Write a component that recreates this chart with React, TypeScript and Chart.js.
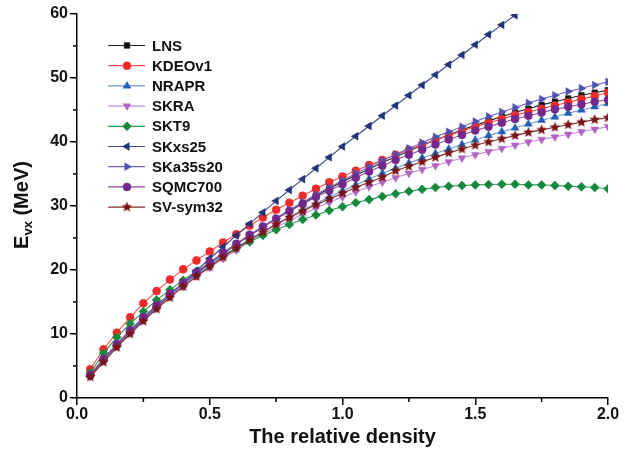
import React, { useEffect, useRef } from 'react';
import { Chart, registerables } from 'chart.js';
import { drawPoint } from 'chart.js/helpers';

Chart.register(...registerables);

const density = [0.05, 0.10, 0.15, 0.20, 0.25, 0.30, 0.35, 0.40, 0.45, 0.50, 0.55, 0.60, 0.65, 0.70, 0.75, 0.80, 0.85, 0.90, 0.95, 1.00, 1.05, 1.10, 1.15, 1.20, 1.25, 1.30, 1.35, 1.40, 1.45, 1.50, 1.55, 1.60, 1.65, 1.70, 1.75, 1.80, 1.85, 1.90, 1.95, 2.00];

const LNS = [3.6, 6.1, 8.4, 10.5, 12.5, 14.4, 16.2, 17.9, 19.5, 21.0, 22.5, 24.0, 25.4, 26.7, 28.0, 29.2, 30.4, 31.6, 32.7, 33.8, 34.8, 35.8, 36.8, 37.7, 38.6, 39.5, 40.3, 41.1, 41.9, 42.6, 43.3, 44.0, 44.6, 45.2, 45.8, 46.3, 46.8, 47.3, 47.7, 48.1];
const KDEOv1 = [4.5, 7.6, 10.2, 12.6, 14.8, 16.7, 18.5, 20.1, 21.5, 22.9, 24.3, 25.6, 26.9, 28.2, 29.4, 30.5, 31.6, 32.7, 33.7, 34.6, 35.5, 36.4, 37.2, 38.0, 38.8, 39.6, 40.3, 41.0, 41.7, 42.4, 43.0, 43.6, 44.2, 44.7, 45.2, 45.7, 46.2, 46.7, 47.2, 47.7];
const NRAPR = [3.5, 6.0, 8.3, 10.4, 12.4, 14.2, 16.0, 17.6, 19.2, 20.7, 22.1, 23.5, 24.8, 26.0, 27.2, 28.3, 29.4, 30.4, 31.4, 32.4, 33.3, 34.2, 35.1, 35.9, 36.7, 37.5, 38.2, 38.9, 39.6, 40.3, 41.0, 41.6, 42.2, 42.8, 43.4, 43.9, 44.5, 45.0, 45.5, 46.0];
const SKRA = [3.4, 5.8, 8.1, 10.2, 12.2, 14.0, 15.8, 17.4, 19.0, 20.4, 21.8, 23.1, 24.4, 25.6, 26.7, 27.7, 28.7, 29.7, 30.6, 31.4, 32.2, 33.0, 33.7, 34.4, 35.1, 35.7, 36.3, 36.9, 37.5, 38.0, 38.5, 39.0, 39.5, 40.0, 40.4, 40.8, 41.2, 41.6, 42.0, 42.4];
const SKT9 = [3.9, 7.0, 9.5, 11.6, 13.5, 15.3, 16.9, 18.4, 19.8, 21.1, 22.3, 23.4, 24.4, 25.4, 26.3, 27.1, 27.9, 28.6, 29.3, 29.9, 30.5, 31.0, 31.5, 31.9, 32.3, 32.6, 32.9, 33.1, 33.2, 33.3, 33.35, 33.4, 33.4, 33.3, 33.3, 33.2, 33.1, 33.0, 32.9, 32.7];
const SKxs25 = [3.4, 5.9, 8.2, 10.3, 12.3, 14.2, 16.1, 18.0, 19.9, 21.8, 23.6, 25.4, 27.2, 29.0, 30.8, 32.5, 34.2, 35.9, 37.6, 39.3, 40.9, 42.5, 44.1, 45.7, 47.3, 48.9, 50.5, 52.1, 53.6, 55.2, 56.8, 58.3, 59.8];
const SKa35s20 = [3.5, 6.0, 8.3, 10.4, 12.4, 14.3, 16.1, 17.8, 19.4, 21.0, 22.5, 24.0, 25.4, 26.8, 28.1, 29.4, 30.6, 31.8, 32.9, 34.0, 35.1, 36.1, 37.1, 38.1, 39.0, 39.9, 40.8, 41.6, 42.4, 43.2, 44.0, 44.7, 45.4, 46.1, 46.7, 47.3, 47.9, 48.4, 48.9, 49.4];
const SQMC700 = [3.6, 6.1, 8.4, 10.6, 12.6, 14.5, 16.3, 18.0, 19.6, 21.2, 22.7, 24.1, 25.5, 26.8, 28.0, 29.2, 30.3, 31.4, 32.4, 33.4, 34.4, 35.4, 36.3, 37.2, 38.0, 38.8, 39.6, 40.4, 41.1, 41.8, 42.4, 43.0, 43.6, 44.1, 44.6, 45.1, 45.5, 45.9, 46.3, 46.6];
const SVsym32 = [3.3, 5.6, 7.9, 10.0, 12.0, 13.9, 15.7, 17.4, 19.0, 20.5, 22.0, 23.4, 24.7, 25.9, 27.1, 28.2, 29.2, 30.2, 31.1, 32.0, 32.9, 33.7, 34.5, 35.5, 36.2, 36.9, 37.6, 38.3, 38.9, 39.5, 40.0, 40.5, 41.0, 41.5, 41.9, 42.3, 42.7, 43.1, 43.5, 43.8];

const seriesNames = ['LNS', 'KDEOv1', 'NRAPR', 'SKRA', 'SKT9', 'SKxs25', 'SKa35s20', 'SQMC700', 'SV-sym32'];
const seriesValues = [LNS, KDEOv1, NRAPR, SKRA, SKT9, SKxs25, SKa35s20, SQMC700, SVsym32];
const xTickValues = [0, 0.5, 1.0, 1.5, 2.0];
const yTickValues = [0, 10, 20, 30, 40, 50, 60];

const FONT = "'Liberation Sans', Arial, Helvetica, sans-serif";

function makeStar(color: string, r: number) {
  const c = document.createElement('canvas');
  const size = Math.ceil(r * 2 + 2);
  c.width = size;
  c.height = size;
  const ctx = c.getContext('2d')!;
  const cx = size / 2, cy = size / 2;
  ctx.beginPath();
  for (let i = 0; i < 10; i++) {
    const rad = i % 2 === 0 ? r : r * 0.45;
    const a = -Math.PI / 2 + (i * Math.PI) / 5;
    const px = cx + rad * Math.cos(a);
    const py = cy + rad * Math.sin(a);
    if (i === 0) ctx.moveTo(px, py); else ctx.lineTo(px, py);
  }
  ctx.closePath();
  ctx.fillStyle = color;
  ctx.fill();
  return c;
}

const styles = [
  { line: '#222222', fill: '#111111', point: 'rect', rot: 0, r: 4 },
  { line: '#f05050', fill: '#ee2b2b', point: 'circle', rot: 0, r: 4 },
  { line: '#6f9ad0', fill: '#1f60b5', point: 'triangle', rot: 0, r: 4.5 },
  { line: '#c58ad4', fill: '#b064c4', point: 'triangle', rot: 180, r: 4.5 },
  { line: '#2a9a50', fill: '#14883c', point: 'rectRot', rot: 0, r: 4.5 },
  { line: '#3a4a88', fill: '#22337a', point: 'triangle', rot: -90, r: 4.5 },
  { line: '#6a6ac0', fill: '#5050b0', point: 'triangle', rot: 90, r: 4.5 },
  { line: '#8a4aa0', fill: '#74288e', point: 'circle', rot: 0, r: 4 },
  { line: '#8a2a2a', fill: '#7a1414', point: 'star', rot: 0, r: 5 },
];

export default function App() {
  const ref = useRef<HTMLCanvasElement | null>(null);

  useEffect(() => {
    if (!ref.current) return;
    const starImg = makeStar(styles[8].fill, 5.5);

    const datasets = seriesNames.map((name, i) => {
      const st = styles[i];
      const ps: any = st.point === 'star' ? starImg : st.point;
      return {
        label: name,
        data: seriesValues[i].map((v, j) => ({ x: density[j], y: v })),
        borderColor: st.line,
        backgroundColor: st.fill,
        pointBackgroundColor: st.fill,
        pointBorderColor: st.fill,
        pointBorderWidth: 0.5,
        pointStyle: ps,
        pointRotation: st.rot,
        pointRadius: st.r,
        borderWidth: 1.1,
        fill: false,
        tension: 0,
        order: seriesNames.length - i,
      };
    });

    const overlay = {
      id: 'overlay',
      afterDraw(chart: any) {
        const ctx = chart.ctx as CanvasRenderingContext2D;
        const xs = chart.scales.x;
        const ys = chart.scales.y;
        const area = chart.chartArea;
        ctx.save();
        // minor ticks
        ctx.strokeStyle = '#000';
        ctx.lineWidth = 1.5;
        [0.25, 0.75, 1.25, 1.75].forEach((v) => {
          const px = xs.getPixelForValue(v);
          ctx.beginPath();
          ctx.moveTo(px, area.bottom);
          ctx.lineTo(px, area.bottom + 4);
          ctx.stroke();
        });
        [5, 15, 25, 35, 45, 55].forEach((v) => {
          const py = ys.getPixelForValue(v);
          ctx.beginPath();
          ctx.moveTo(area.left - 4, py);
          ctx.lineTo(area.left, py);
          ctx.stroke();
        });
        // x title
        ctx.fillStyle = '#111';
        ctx.font = `bold 20px ${FONT}`;
        ctx.textAlign = 'center';
        ctx.textBaseline = 'middle';
        ctx.fillText('The relative density', (area.left + area.right) / 2, 437);
        // y title with subscript
        ctx.translate(21, 205);
        ctx.rotate(-Math.PI / 2);
        ctx.textAlign = 'left';
        ctx.textBaseline = 'alphabetic';
        const big = `bold 20px ${FONT}`;
        const small = `bold 13px ${FONT}`;
        ctx.font = big;
        const wE = ctx.measureText('E').width;
        const wRest = ctx.measureText(' (MeV)').width;
        ctx.font = small;
        const wSub = ctx.measureText('vx').width;
        const total = wE + wSub + wRest;
        let x0 = -total / 2;
        const base = 7;
        ctx.font = big;
        ctx.fillText('E', x0, base);
        x0 += wE;
        ctx.font = small;
        ctx.fillText('vx', x0, base + 4);
        x0 += wSub;
        ctx.font = big;
        ctx.fillText(' (MeV)', x0, base);
        ctx.restore();

        // legend
        ctx.save();
        const lx0 = 108, lx1 = 145, mx = 127, tx = 152, ly0 = 45.5, dy = 20.2;
        chart.data.datasets.forEach((ds: any, i: number) => {
          const y = ly0 + i * dy;
          ctx.strokeStyle = ds.borderColor;
          ctx.lineWidth = 1.2;
          ctx.beginPath();
          ctx.moveTo(lx0, y);
          ctx.lineTo(lx1, y);
          ctx.stroke();
          ctx.fillStyle = ds.pointBackgroundColor;
          ctx.strokeStyle = ds.pointBorderColor;
          ctx.lineWidth = 0.5;
          drawPoint(ctx, { pointStyle: ds.pointStyle, rotation: ds.pointRotation, radius: ds.pointRadius, borderWidth: 0.5 } as any, mx, y);
          ctx.fillStyle = '#111';
          ctx.font = `bold 15px ${FONT}`;
          ctx.textAlign = 'left';
          ctx.textBaseline = 'middle';
          ctx.fillText(ds.label, tx, y + 1);
        });
        ctx.restore();
      },
    };

    const chart = new Chart(ref.current, {
      type: 'line',
      data: { datasets: datasets as any },
      options: {
        animation: false,
        responsive: true,
        maintainAspectRatio: false,
        layout: { padding: { left: 0, right: 22, top: 14, bottom: 0 } },
        plugins: { legend: { display: false }, tooltip: { enabled: false } },
        scales: {
          x: {
            type: 'linear',
            min: 0,
            max: 2,
            afterFit: (s: any) => { s.height = 52; },
            afterBuildTicks: (s: any) => { s.ticks = xTickValues.map((v) => ({ value: v })); },
            ticks: {
              color: '#111',
              font: { family: FONT, size: 16, weight: 'bold' },
              padding: 0,
              maxRotation: 0,
              callback: (v: any) => Number(v).toFixed(1),
            },
            grid: { drawOnChartArea: false, drawTicks: true, tickLength: 7, color: '#000', lineWidth: 1.5 },
            border: { color: '#000', width: 1.5 },
          },
          y: {
            type: 'linear',
            min: 0,
            max: 60,
            afterFit: (s: any) => { s.width = 77; },
            afterBuildTicks: (s: any) => { s.ticks = yTickValues.map((v) => ({ value: v })); },
            ticks: {
              color: '#111',
              font: { family: FONT, size: 16, weight: 'bold' },
              padding: 2,
              callback: (v: any) => String(v),
            },
            grid: { drawOnChartArea: false, drawTicks: true, tickLength: 7, color: '#000', lineWidth: 1.5 },
            border: { color: '#000', width: 1.5 },
          },
        },
      },
      plugins: [overlay],
    });
    return () => chart.destroy();
  }, []);

  return (
    <div style={{ position: 'absolute', left: 0, top: 0, width: 630, height: 450, background: '#fff' }}>
      <canvas ref={ref} />
    </div>
  );
}
